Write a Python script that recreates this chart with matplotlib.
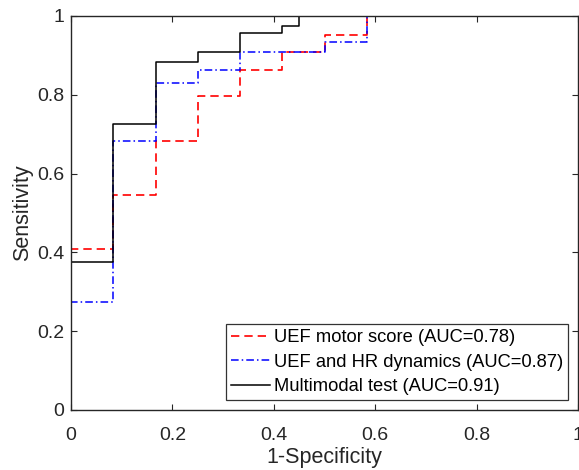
import matplotlib.pyplot as plt

plt.rcParams['font.family'] = ['Liberation Sans', 'DejaVu Sans']

# ROC operating points (false positive rate, true positive rate)
fpr_motor = [0, 0, 1/12, 2/12, 3/12, 4/12, 5/12, 6/12, 7/12, 1]
tpr_motor = [0, 0.409, 0.545, 0.682, 0.798, 0.864, 0.909, 0.952, 1.0, 1.0]

fpr_hr = [0, 0, 1/12, 2/12, 3/12, 4/12, 6/12, 7/12, 1]
tpr_hr = [0, 0.273, 0.682, 0.830, 0.864, 0.909, 0.934, 1.0, 1.0]

fpr_multi = [0, 0, 1/12, 2/12, 3/12, 4/12, 5/12, 0.449, 1]
tpr_multi = [0, 0.375, 0.727, 0.883, 0.909, 0.957, 0.975, 1.0, 1.0]

labels = ['UEF motor score (AUC=0.78)',
          'UEF and HR dynamics (AUC=0.87)',
          'Multimodal test (AUC=0.91)']

ticks = [0, 0.2, 0.4, 0.6, 0.8, 1]
tick_labels = ['0', '0.2', '0.4', '0.6', '0.8', '1']

axis_color = '#262626'

fig = plt.figure(figsize=(5.79, 4.70), dpi=100)
ax = fig.add_axes([71/579, 60/470, 507/579, 394/470])

ax.step(fpr_motor, tpr_motor, where='post', color='red', lw=1.2,
        dashes=(5, 3), label=labels[0])
ax.step(fpr_hr, tpr_hr, where='post', color='blue', lw=1.1,
        dashes=(5, 2, 1, 2), label=labels[1])
ax.step(fpr_multi, tpr_multi, where='post', color='black', lw=1.1,
        label=labels[2])

ax.set_xlim(0, 1)
ax.set_ylim(0, 1)
ax.set_xticks(ticks)
ax.set_xticklabels(tick_labels)
ax.set_yticks(ticks)
ax.set_yticklabels(tick_labels)
ax.tick_params(direction='in', length=4, width=0.8, top=True, right=True,
               labelsize=14, colors=axis_color)
ax.tick_params(axis='x', pad=12)
ax.tick_params(axis='y', pad=5)
for spine in ax.spines.values():
    spine.set_color(axis_color)
    spine.set_linewidth(1.0)

ax.set_xlabel('1-Specificity', fontsize=15.5, color=axis_color, labelpad=2.5)
ax.set_ylabel('Sensitivity', fontsize=15.5, color=axis_color, labelpad=3)

leg = ax.legend(loc='lower right', fontsize=13.2, frameon=True, fancybox=False,
                handlelength=2.1, handletextpad=0.25, borderpad=0.25,
                labelspacing=0.42, borderaxespad=0.55)
leg.get_frame().set_edgecolor('black')
leg.get_frame().set_linewidth(0.9)

fig.savefig('out.png', dpi=100)
